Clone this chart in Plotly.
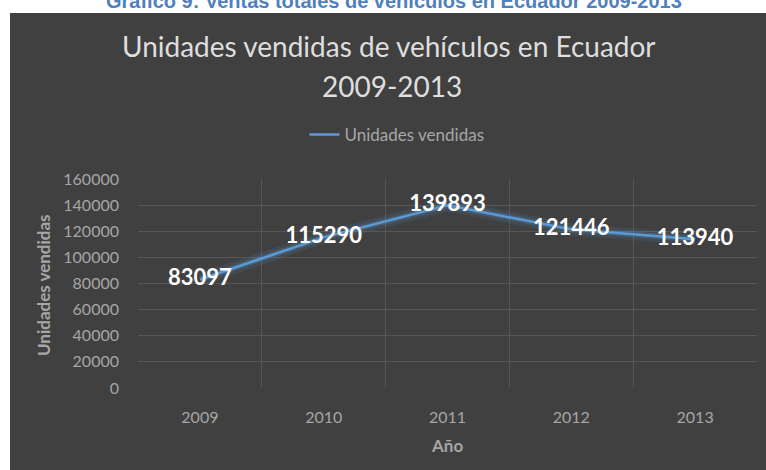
import plotly.graph_objects as go

years = [2009, 2010, 2011, 2012, 2013]
unidades = [83097, 115290, 139893, 121446, 113940]
series_name = "Unidades vendidas"
y_ticks = [0, 20000, 40000, 60000, 80000, 100000, 120000, 140000, 160000]

W, H = 766, 470
L, R, T, B = 138, 9, 179, 82
PW, PH = W - L - R, H - T - B

def px_x(px):
    return (px - L) / PW

def px_y(py):
    return (H - B - py) / PH

FONT = "Lato"
GRAY = "#a6a6a6"
BG = "#404040"

fig = go.Figure()
# glow beneath the line
fig.add_trace(go.Scatter(x=years, y=unidades, mode="lines",
                         line=dict(color="rgba(91,155,213,0.12)", width=12),
                         showlegend=False, hoverinfo="skip"))
fig.add_trace(go.Scatter(x=years, y=unidades, mode="lines",
                         line=dict(color="rgba(91,155,213,0.22)", width=6),
                         showlegend=False, hoverinfo="skip"))
fig.add_trace(go.Scatter(x=years, y=unidades, mode="lines+text", name=series_name,
                         line=dict(color="#5b9bd5", width=2.5),
                         text=[str(v) for v in unidades], textposition="middle center",
                         textfont=dict(family=FONT, size=22, color="white", weight="bold")))

fig.add_shape(type="rect", xref="paper", yref="paper",
              x0=px_x(10), x1=px_x(W + 5), y0=px_y(H + 5), y1=px_y(13),
              fillcolor=BG, line=dict(width=0), layer="below")

fig.update_layout(
    width=W, height=H,
    margin=dict(l=L, r=R, t=T, b=B, pad=0),
    paper_bgcolor="white", plot_bgcolor=BG,
    showlegend=True,
    legend=dict(orientation="h", x=px_x(397), xanchor="center", y=px_y(135), yanchor="middle",
                font=dict(family=FONT, size=17, color=GRAY), bgcolor="rgba(0,0,0,0)"),
    xaxis=dict(range=[2008.5, 2013.5], tickvals=years, ticktext=[str(y) for y in years],
               showgrid=False, zeroline=False, showline=False, ticks="",
               ticklabelstandoff=18,
               tickfont=dict(family=FONT, size=16, color=GRAY),
               minor=dict(tick0=2008.5, dtick=1, showgrid=True, gridcolor="#575757", gridwidth=1)),
    yaxis=dict(range=[0, 160000], tickvals=y_ticks, ticktext=[str(v) for v in y_ticks],
               showgrid=True, gridcolor="#575757", gridwidth=1,
               zeroline=True, zerolinecolor=BG, showline=False, ticks="",
               ticklabelstandoff=18,
               tickfont=dict(family=FONT, size=16, color=GRAY)),
    annotations=[
        dict(text="Gráfico 9: Ventas totales de vehículos en Ecuador 2009-2013",
             xref="paper", yref="paper", x=px_x(394), y=px_y(14), xanchor="center", yanchor="bottom",
             showarrow=False, font=dict(family="Liberation Sans", size=20, color="#4f81bd", weight="bold")),
        dict(text="Unidades vendidas de vehículos en Ecuador",
             xref="paper", yref="paper", x=px_x(389), y=px_y(46), xanchor="center", yanchor="middle",
             showarrow=False, font=dict(family=FONT, size=28, color="#dedede")),
        dict(text="2009-2013",
             xref="paper", yref="paper", x=px_x(392), y=px_y(86), xanchor="center", yanchor="middle",
             showarrow=False, font=dict(family=FONT, size=28, color="#dedede")),
        dict(text="<b>Unidades vendidas</b>",
             xref="paper", yref="paper", x=px_x(43), y=px_y(285), xanchor="center", yanchor="middle",
             textangle=-90, showarrow=False, font=dict(family=FONT, size=17, color=GRAY)),
        dict(text="<b>Año</b>",
             xref="paper", yref="paper", x=px_x(447), y=px_y(445), xanchor="center", yanchor="middle",
             showarrow=False, font=dict(family=FONT, size=17, color=GRAY)),
    ],
)

fig.write_html("out.html", config={"displayModeBar": False},
               post_script="document.body.style.margin='0';document.body.style.overflow='hidden';")
